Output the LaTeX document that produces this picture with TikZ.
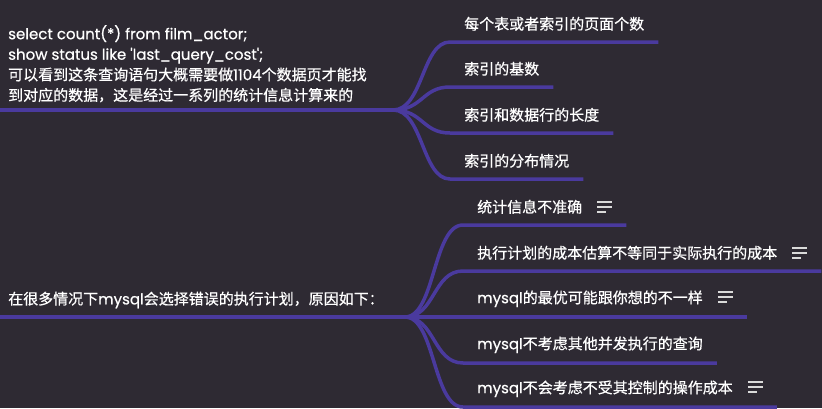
\documentclass[tikz,border=0pt]{standalone}
\usepackage{fontspec}
\setmainfont{Noto Sans CJK SC}[FakeBold=0.6]
\newfontfamily\lat[Ligatures=TeXOff,FakeBold=0.6]{Poppins}
\usetikzlibrary{positioning}

\definecolor{bgdark}{HTML}{2E2A33}
\definecolor{branchpurple}{HTML}{4A3A9E}
\definecolor{notegray}{HTML}{DADADA}

% small "has note" mark behind a topic
\newcommand{\notemark}{\hspace{15pt}{\color{notegray}\vbox{\hrule width 15pt height 1.7pt \vskip 3.3pt \hrule width 15pt height 1.7pt \vskip 3.3pt \hrule width 9pt height 1.7pt}}}

\begin{document}
\begin{tikzpicture}[
    x=1pt, y=-1pt,
    topic/.style={
        anchor=south west,
        inner xsep=14pt,
        inner ysep=0pt,
        minimum height=36pt,
        text=white,
        font=\fontsize{15}{18}\selectfont
    },
    rootnote/.style={
        inner sep=0pt,
        align=left,
        text=white,
        font=\fontsize{15}{20.5}\selectfont
    },
    branch/.style={
        draw=branchpurple,
        line width=3.5pt
    }
]

    % background and page size
    \fill[bgdark] (0,0) rectangle (822,408);
    \useasboundingbox (0,0) rectangle (822,408);

    % First root: the cost query
    \node[rootnote, anchor=north west] (costnote) at (8,25)
        {{\lat select count(*) from film\_actor;}\\
         {\lat show status like 'last\_query\_cost';}\\
         可以看到这条查询语句大概需要做{\lat 1104}个数据页才能找\\
         到对应的数据，这是经过一系列的统计信息计算来的};
    \coordinate (costroot) at (0,110);
    \coordinate (costfork) at (393,110);

    % its statistics
    \node[topic] (pages) at (450,42) {每个表或者索引的页面个数};
    \node[topic] (cardinality) at (450,87) {索引的基数};
    \node[topic] (rowlength) at (450,133) {索引和数据行的长度};
    \node[topic] (spread) at (450,179) {索引的分布情况};

    % Second root: wrong plans
    \node[rootnote, anchor=west] (wrongnote) at (8,300)
        {在很多情况下{\lat mysql}会选择错误的执行计划，原因如下：};
    \coordinate (wrongroot) at (0,317);
    \coordinate (wrongfork) at (405,317);

    % its reasons
    \node[topic] (inexact) at (463,225) {统计信息不准确\notemark};
    \node[topic] (estimate) at (463,271) {执行计划的成本估算不等同于实际执行的成本\notemark};
    \node[topic] (optimal) at (463,317) {{\lat mysql}的最优可能跟你想的不一样\notemark};
    \node[topic] (concurrent) at (463,363) {{\lat mysql}不考虑其他并发执行的查询};
    \node[topic] (outside) at (463,407) {{\lat mysql}不会考虑不受其控制的操作成本\notemark};

    % root lines
    \draw[branch, line width=4pt] (costroot) -- (costfork);
    \draw[branch, line width=4pt] (wrongroot) -- (wrongfork);

    % branches of the first root
    \draw[branch] (costfork) .. controls +(30,0) and +(-28,0) .. (pages.south west) -- (pages.south east);
    \draw[branch] (costfork) .. controls +(30,0) and +(-28,0) .. (cardinality.south west) -- (cardinality.south east);
    \draw[branch] (costfork) .. controls +(30,0) and +(-28,0) .. (rowlength.south west) -- (rowlength.south east);
    \draw[branch] (costfork) .. controls +(30,0) and +(-28,0) .. (spread.south west) -- (spread.south east);

    % branches of the second root
    \draw[branch] (wrongfork) .. controls +(30,0) and +(-30,0) .. (inexact.south west) -- (inexact.south east);
    \draw[branch] (wrongfork) .. controls +(30,0) and +(-30,0) .. (estimate.south west) -- (estimate.south east);
    \draw[branch] (wrongfork) -- (optimal.south west) -- (optimal.south east);
    \draw[branch] (wrongfork) .. controls +(30,0) and +(-30,0) .. (concurrent.south west) -- (concurrent.south east);
    \draw[branch] (wrongfork) .. controls +(30,0) and +(-30,0) .. (outside.south west) -- (outside.south east);

\end{tikzpicture}
\end{document}
